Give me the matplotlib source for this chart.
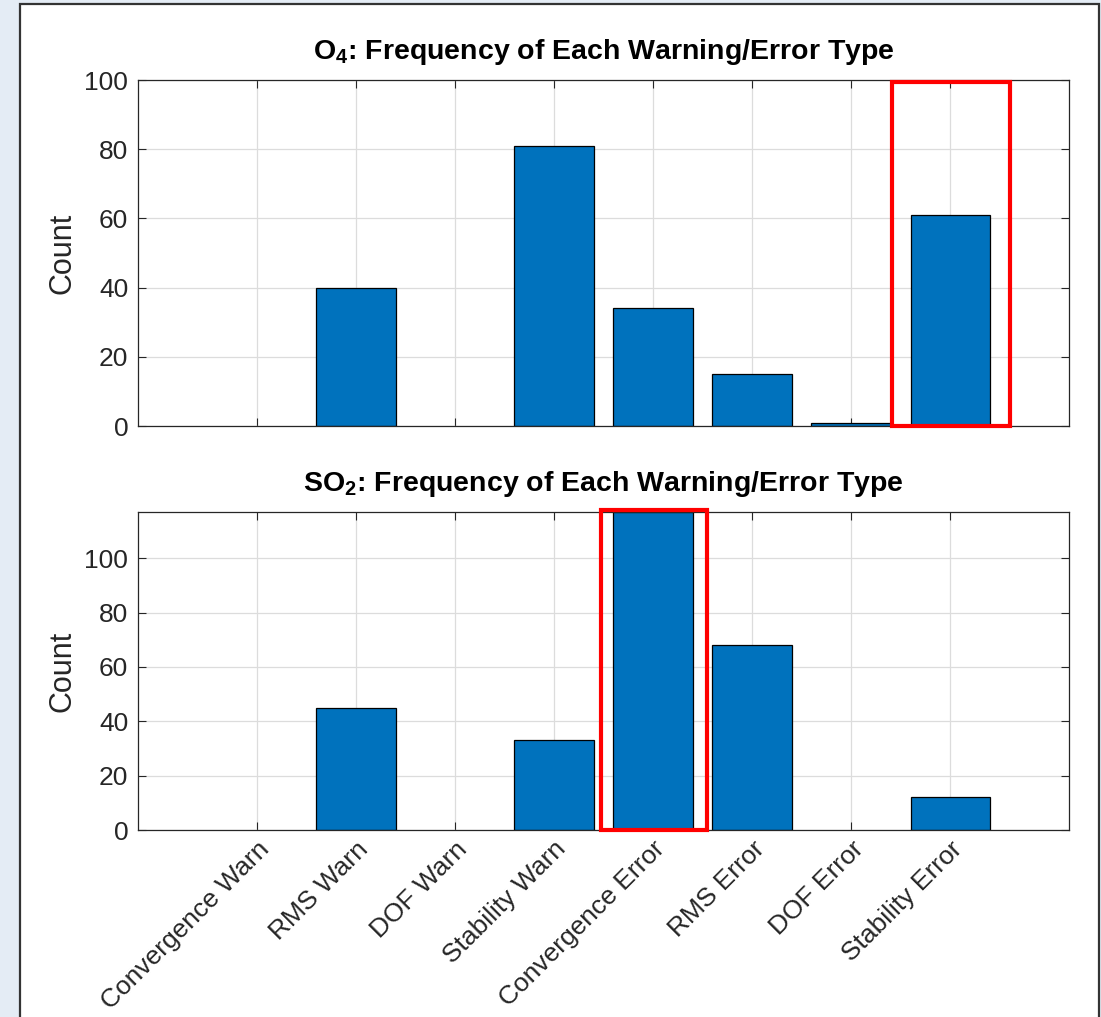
import numpy as np
import matplotlib.pyplot as plt
from matplotlib.patches import Rectangle

# warning / error categories
categories = ["Convergence Warn", "RMS Warn", "DOF Warn", "Stability Warn",
              "Convergence Error", "RMS Error", "DOF Error", "Stability Error"]
# counts
o4_counts = [0, 40, 0, 81, 34, 15, 1, 61]
so2_counts = [0, 45, 0, 33, 117, 68, 0, 12]
# which bar gets the red box
o4_highlight = "Stability Error"
so2_highlight = "Convergence Error"
yticks = [0, 20, 40, 60, 80, 100]

plt.rcParams['font.family'] = ['Liberation Sans', 'DejaVu Sans']
plt.rcParams['mathtext.fontset'] = 'custom'
plt.rcParams['mathtext.rm'] = 'Liberation Sans:bold'
plt.rcParams['mathtext.bf'] = 'Liberation Sans:bold'

matlab_blue = '#0072BD'
axis_col = '#262626'

fig = plt.figure(figsize=(11.01, 10.17), dpi=100)
fig.patch.set_facecolor('#e4ecf5')
# white panel of the screenshot
fig.patches.append(Rectangle((20 / 1101, -0.01), 1079 / 1101, 1.01 - 4 / 1017,
                             transform=fig.transFigure, facecolor='white',
                             edgecolor='#333333', linewidth=1.6, zorder=-10))

ax1 = fig.add_axes([138 / 1101, 1 - 426 / 1017, 931 / 1101, 346 / 1017])
ax2 = fig.add_axes([138 / 1101, 1 - 830 / 1017, 931 / 1101, 318 / 1017])

x = np.arange(len(categories))


def style_axes(ax, counts, ymax, title):
    edges = ['black' if c > 0 else 'none' for c in counts]
    ax.bar(x, counts, width=0.8, color=matlab_blue, edgecolor=edges,
           linewidth=0.9, zorder=2)
    ax.set_xlim(-1.2, len(categories) - 1 + 1.2)
    ax.set_ylim(0, ymax)
    ax.set_yticks(yticks)
    ax.set_xticks(x)
    ax.grid(True, color='#dcdcdc', linewidth=0.9, zorder=0)
    ax.set_axisbelow(True)
    ax.tick_params(direction='in', length=5.5, width=0.8, colors=axis_col,
                   labelsize=19, top=True, right=True, pad=7)
    for s in ax.spines.values():
        s.set_color(axis_col)
        s.set_linewidth(0.9)
    ax.set_ylabel('Count', fontsize=22, color=axis_col, va='center')
    ax.yaxis.set_label_coords(-0.0816, 0.5)
    ax.set_title(title, fontsize=20.5, fontweight='bold', pad=15)


style_axes(ax1, o4_counts, 100, r'O$_{4}$: Frequency of Each Warning/Error Type')
style_axes(ax2, so2_counts, max(so2_counts),
           r'SO$_{2}$: Frequency of Each Warning/Error Type')

ax1.set_xticklabels([])
ax2.set_xticklabels(categories, rotation=45, ha='right', va='top',
                    rotation_mode='anchor')
ax2.tick_params(axis='x', pad=5)

# red highlight boxes
i1 = categories.index(o4_highlight)
ax1.add_patch(Rectangle((i1 - 0.59, 0), 1.19, 99.5, fill=False, edgecolor='red',
                        linewidth=3, zorder=5, clip_on=False))
i2 = categories.index(so2_highlight)
ax2.add_patch(Rectangle((i2 - 0.53, 0), 1.08, max(so2_counts) + 0.6, fill=False,
                        edgecolor='red', linewidth=3, zorder=5, clip_on=False))

fig.savefig('out.png', dpi=100, facecolor=fig.get_facecolor())
